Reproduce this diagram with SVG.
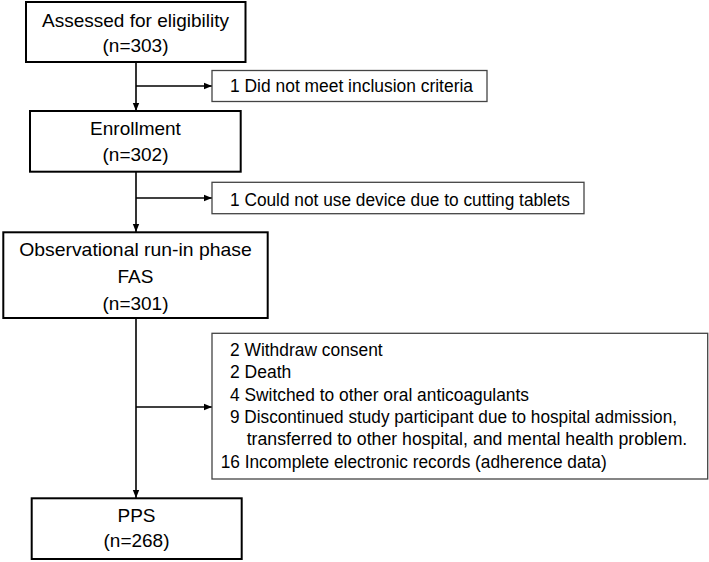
<svg xmlns="http://www.w3.org/2000/svg" width="709" height="562" viewBox="0 0 709 562">
<style>
.main{fill:#fff;stroke:#000;stroke-width:2}
.excl{fill:#fff;stroke:#444;stroke-width:1.3}
.t{font-family:"Liberation Sans",Arial,sans-serif;font-size:19px;fill:#000;text-anchor:middle}
.e{font-family:"Liberation Sans",Arial,sans-serif;font-size:17.5px;fill:#000}
.c{stroke:#000;stroke-width:1.6;fill:none;marker-end:url(#ah)}
</style>
<defs>
<marker id="ah" viewBox="0 0 8 8" refX="8" refY="4" markerWidth="8" markerHeight="8" markerUnits="userSpaceOnUse" orient="auto">
<path d="M0,0.8 L8,4 L0,7.2 Z" fill="#000"/>
</marker>
</defs>
<rect width="709" height="562" fill="#fff"/>
<g id="connectors">
<line class="c" x1="136" y1="62" x2="136" y2="111"/>
<line class="c" x1="136" y1="86" x2="212" y2="86"/>
<line class="c" x1="136" y1="172" x2="136" y2="232"/>
<line class="c" x1="136" y1="198" x2="212" y2="198"/>
<line class="c" x1="136" y1="318" x2="136" y2="498"/>
<line class="c" x1="136" y1="407" x2="212" y2="407"/>
</g>
<g id="n1">
<rect class="main" x="26" y="2" width="219.5" height="60"/>
<text class="t" x="135.5" y="27" textLength="187" lengthAdjust="spacingAndGlyphs">Assessed for eligibility</text>
<text class="t" x="135.5" y="52">(n=303)</text>
</g>
<g id="x1">
<rect class="excl" x="212" y="70.5" width="275" height="31"/>
<text class="e" x="230" y="92" textLength="243" lengthAdjust="spacingAndGlyphs">1 Did not meet inclusion criteria</text>
</g>
<g id="n2">
<rect class="main" x="30" y="111" width="210.7" height="60.7"/>
<text class="t" x="135.5" y="135">Enrollment</text>
<text class="t" x="135.5" y="161">(n=302)</text>
</g>
<g id="x2">
<rect class="excl" x="212" y="182.3" width="372" height="31.4"/>
<text class="e" x="230" y="206" textLength="340" lengthAdjust="spacingAndGlyphs">1 Could not use device due to cutting tablets</text>
</g>
<g id="n3">
<rect class="main" x="3.3" y="232.3" width="264.4" height="85.7"/>
<text class="t" x="135.5" y="256" textLength="232.7" lengthAdjust="spacingAndGlyphs">Observational run-in phase</text>
<text class="t" x="135.5" y="283">FAS</text>
<text class="t" x="135.5" y="309.5">(n=301)</text>
</g>
<g id="x3">
<rect class="excl" x="212" y="333.3" width="495.7" height="145.7"/>
<text class="e" x="230" y="355.7" textLength="152.7" lengthAdjust="spacingAndGlyphs">2 Withdraw consent</text>
<text class="e" x="230" y="377.9">2 Death</text>
<text class="e" x="230" y="400.6" textLength="299" lengthAdjust="spacingAndGlyphs">4 Switched to other oral anticoagulants</text>
<text class="e" x="230" y="422.8" textLength="447" lengthAdjust="spacingAndGlyphs">9 Discontinued study participant due to hospital admission,</text>
<text class="e" x="246.7" y="445.2" textLength="440.6" lengthAdjust="spacingAndGlyphs">transferred to other hospital, and mental health problem.</text>
<text class="e" x="220.7" y="467.8" textLength="386" lengthAdjust="spacingAndGlyphs">16 Incomplete electronic records (adherence data)</text>
</g>
<g id="n4">
<rect class="main" x="31.7" y="498.3" width="210" height="60.7"/>
<text class="t" x="136.5" y="521.7">PPS</text>
<text class="t" x="136.5" y="546.7">(n=268)</text>
</g>
</svg>
